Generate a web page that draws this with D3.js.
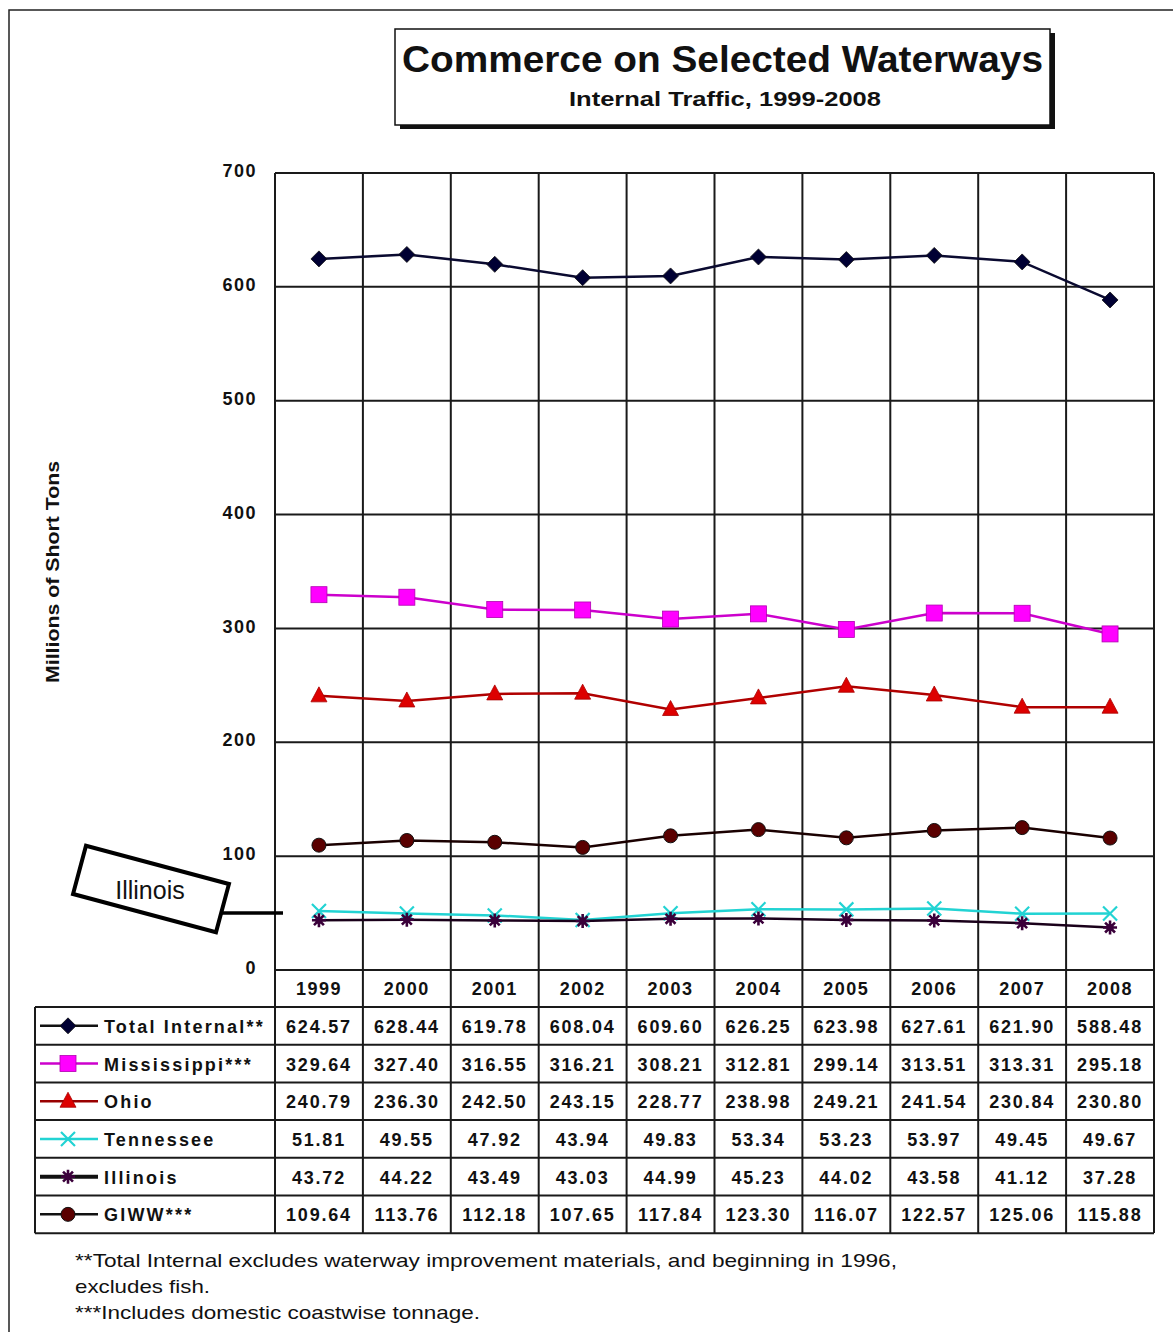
<!DOCTYPE html>
<html>
<head>
<meta charset="utf-8">
<script src="https://d3js.org/d3.v7.min.js"></script>
<style>
body { margin: 0; background: #fff; }
svg { display: block; font-family: Arial, "Liberation Sans", sans-serif; }
</style>
</head>
<body>
<div id="chart"></div>
<script>

// data
var years = ["1999","2000","2001","2002","2003","2004","2005","2006","2007","2008"];
var seriesNames = ["Total Internal**","Mississippi***","Ohio","Tennessee","Illinois","GIWW***"];
var totalInternal = [624.57,628.44,619.78,608.04,609.60,626.25,623.98,627.61,621.90,588.48];
var mississippi   = [329.64,327.40,316.55,316.21,308.21,312.81,299.14,313.51,313.31,295.18];
var ohio          = [240.79,236.30,242.50,243.15,228.77,238.98,249.21,241.54,230.84,230.80];
var tennessee     = [51.81,49.55,47.92,43.94,49.83,53.34,53.23,53.97,49.45,49.67];
var illinois      = [43.72,44.22,43.49,43.03,44.99,45.23,44.02,43.58,41.12,37.28];
var giww          = [109.64,113.76,112.18,107.65,117.84,123.30,116.07,122.57,125.06,115.88];
var yTicks = [0,100,200,300,400,500,600,700];

var series = [
  {name: seriesNames[0], values: totalInternal, line: "#0a0a30", key: "#111", fill: "#000033", marker: "diamond"},
  {name: seriesNames[1], values: mississippi,   line: "#cc00cc", key: "#cc00cc", fill: "#ff00ff", marker: "square"},
  {name: seriesNames[2], values: ohio,          line: "#b00000", key: "#990000", fill: "#dd0000", marker: "triangle"},
  {name: seriesNames[3], values: tennessee,     line: "#22d3d3", key: "#22d3d3", fill: "#22d3d3", marker: "x"},
  {name: seriesNames[4], values: illinois,      line: "#1a001a", key: "#111", fill: "#3a003a", marker: "star"},
  {name: seriesNames[5], values: giww,          line: "#1a0000", key: "#111", fill: "#5a0000", marker: "circle"}
];

var W = 1173, H = 1332;
var svg = d3.select("#chart").append("svg").attr("width", W).attr("height", H);

// outer frame (runs off the right and bottom)
svg.append("rect").attr("x", 9).attr("y", 10).attr("width", 1200).attr("height", 1400)
  .attr("fill", "none").attr("stroke", "#222").attr("stroke-width", 1.5);

// title box with shadow
svg.append("rect").attr("x", 400).attr("y", 33).attr("width", 655).attr("height", 96).attr("fill", "#111");
svg.append("rect").attr("x", 395).attr("y", 29).attr("width", 655).attr("height", 96)
  .attr("fill", "#fff").attr("stroke", "#111").attr("stroke-width", 1.5);
svg.append("text").attr("x", 402).attr("y", 72)
  .attr("font-size", 37).attr("font-weight", "bold").attr("fill", "#111")
  .attr("textLength", 641).attr("lengthAdjust", "spacingAndGlyphs")
  .text("Commerce on Selected Waterways");
svg.append("text").attr("x", 569).attr("y", 106)
  .attr("font-size", 21).attr("font-weight", "bold").attr("fill", "#111")
  .attr("textLength", 312).attr("lengthAdjust", "spacingAndGlyphs")
  .text("Internal Traffic, 1999-2008");

// scales
var x = d3.scaleBand().domain(years).range([275, 1154]).padding(0);
var y = d3.scaleLinear().domain([0, 700]).range([970, 173]);
var cx = function(d, i) { return x(years[i]) + x.bandwidth() / 2; };

var grid = svg.append("g").attr("stroke", "#1a1a1a").attr("stroke-width", 2);
// horizontal gridlines
grid.selectAll(".hg").data(yTicks).enter().append("line")
  .attr("x1", 275).attr("x2", 1154)
  .attr("y1", function(d) { return y(d); }).attr("y2", function(d) { return y(d); });
// vertical gridlines (through plot and table)
var edges = years.map(function(d) { return x(d); }).concat([1154]);
grid.selectAll(".vg").data(edges).enter().append("line")
  .attr("x1", function(d) { return d; }).attr("x2", function(d) { return d; })
  .attr("y1", 173).attr("y2", 1233);

// y axis labels
var yAxis = d3.axisLeft(y).tickValues(yTicks).tickSize(0).tickPadding(18);
var ya = svg.append("g").attr("transform", "translate(275,0)").call(yAxis);
ya.select(".domain").remove();
ya.selectAll("text").attr("font-size", 18).attr("font-weight", "bold")
  .attr("font-family", "Arial, 'Liberation Sans', sans-serif").attr("fill", "#111")
  .attr("letter-spacing", 1.5).attr("dy", "0.2em");

svg.append("text").attr("transform", "translate(59,572) rotate(-90)")
  .attr("text-anchor", "middle").attr("font-size", 19).attr("font-weight", "bold")
  .attr("fill", "#111").attr("textLength", 222).attr("lengthAdjust", "spacingAndGlyphs")
  .text("Millions of Short Tons");

// markers
function drawMarker(g, type, color, px, py, s) {
  if (type === "diamond") {
    g.append("path").attr("d", "M" + px + "," + (py - s) + "L" + (px + s) + "," + py + "L" + px + "," + (py + s) + "L" + (px - s) + "," + py + "Z")
      .attr("fill", color).attr("stroke", "#111").attr("stroke-width", 0.8);
  } else if (type === "square") {
    g.append("rect").attr("x", px - s).attr("y", py - s).attr("width", 2 * s).attr("height", 2 * s)
      .attr("fill", color).attr("stroke", "#b000b0").attr("stroke-width", 0.8);
  } else if (type === "triangle") {
    g.append("path").attr("d", "M" + px + "," + (py - s - 2) + "L" + (px + s + 1) + "," + (py + s - 1) + "L" + (px - s - 1) + "," + (py + s - 1) + "Z")
      .attr("fill", color).attr("stroke", "#aa0000").attr("stroke-width", 0.8);
  } else if (type === "circle") {
    g.append("circle").attr("cx", px).attr("cy", py).attr("r", s).attr("fill", color)
      .attr("stroke", "#111").attr("stroke-width", 1);
  } else if (type === "x") {
    g.append("path").attr("d", "M" + (px - s) + "," + (py - s) + "L" + (px + s) + "," + (py + s) + "M" + (px + s) + "," + (py - s) + "L" + (px - s) + "," + (py + s))
      .attr("stroke", color).attr("stroke-width", 2.2).attr("fill", "none");
  } else if (type === "star") {
    var d = "";
    for (var k = 0; k < 4; k++) {
      var a = k * Math.PI / 4;
      d += "M" + (px - s * Math.cos(a)) + "," + (py - s * Math.sin(a)) + "L" + (px + s * Math.cos(a)) + "," + (py + s * Math.sin(a));
    }
    g.append("path").attr("d", d).attr("stroke", color).attr("stroke-width", 2.6).attr("fill", "none");
    g.append("circle").attr("cx", px).attr("cy", py).attr("r", 3.5).attr("fill", color);
  }
}

var markerSize = {diamond: 8, square: 8, triangle: 7, circle: 7, x: 7, star: 7};

var line = d3.line().x(cx).y(function(d) { return y(d); });

series.forEach(function(s) {
  var g = svg.append("g");
  g.append("path").datum(s.values).attr("d", line)
    .attr("fill", "none").attr("stroke", s.line).attr("stroke-width", 2.5);
  s.values.forEach(function(v, i) {
    drawMarker(g, s.marker, s.fill, cx(v, i), y(v), markerSize[s.marker]);
  });
});

// table
var rowTop = 1007, rowH = 37.7;
var tbl = svg.append("g");
// year header
tbl.selectAll(".yr").data(years).enter().append("text")
  .attr("x", function(d) { return x(d) + x.bandwidth() / 2; }).attr("y", 995)
  .attr("text-anchor", "middle").attr("font-size", 18).attr("font-weight", "bold")
  .attr("letter-spacing", 1.5).attr("fill", "#111").text(function(d) { return d; });

// row lines
var rowLines = d3.range(series.length + 1).map(function(i) { return rowTop + i * rowH; });
tbl.selectAll(".rl").data(rowLines).enter().append("line")
  .attr("x1", 35).attr("x2", 1154)
  .attr("y1", function(d) { return d; }).attr("y2", function(d) { return d; })
  .attr("stroke", "#1a1a1a").attr("stroke-width", 2);
tbl.append("line").attr("x1", 35).attr("x2", 35).attr("y1", rowTop).attr("y2", rowLines[rowLines.length - 1])
  .attr("stroke", "#1a1a1a").attr("stroke-width", 2);

series.forEach(function(s, r) {
  var cy = rowTop + r * rowH + rowH / 2;
  // legend key
  tbl.append("line").attr("x1", 40).attr("x2", 98).attr("y1", cy).attr("y2", cy)
    .attr("stroke", s.key).attr("stroke-width", s.marker === "star" ? 4 : 2.5);
  drawMarker(tbl, s.marker, s.fill, 68, cy, markerSize[s.marker]);
  tbl.append("text").attr("x", 104).attr("y", cy + 7).attr("font-size", 18).attr("font-weight", "bold")
    .attr("letter-spacing", 2.2).attr("fill", "#111").text(s.name);
  // values
  tbl.selectAll(".v" + r).data(s.values).enter().append("text")
    .attr("x", cx).attr("y", cy + 7).attr("text-anchor", "middle")
    .attr("font-size", 18).attr("font-weight", "bold").attr("letter-spacing", 1.8)
    .attr("fill", "#111").text(function(d) { return d.toFixed(2); });
});

// Illinois callout
var call = svg.append("g");
call.append("line").attr("x1", 222).attr("x2", 283).attr("y1", 913).attr("y2", 913)
  .attr("stroke", "#000").attr("stroke-width", 3.5);
call.append("rect").attr("x", -74).attr("y", -25).attr("width", 148).attr("height", 50)
  .attr("transform", "translate(151,889) rotate(15)")
  .attr("fill", "#fff").attr("stroke", "#000").attr("stroke-width", 4);
call.append("text").attr("x", 150).attr("y", 899).attr("text-anchor", "middle")
  .attr("font-size", 25).attr("fill", "#111").text("Illinois");

// footnotes
var notes = [
  {t: "**Total Internal excludes waterway improvement materials, and beginning in 1996,", y: 1267, w: 822},
  {t: "excludes fish.", y: 1293, w: 135},
  {t: "***Includes domestic coastwise tonnage.", y: 1319, w: 405}
];
svg.selectAll(".fn").data(notes).enter().append("text")
  .attr("x", 75).attr("y", function(d) { return d.y; })
  .attr("font-size", 19).attr("fill", "#111")
  .attr("textLength", function(d) { return d.w; }).attr("lengthAdjust", "spacingAndGlyphs")
  .text(function(d) { return d.t; });

</script>
</body>
</html>
